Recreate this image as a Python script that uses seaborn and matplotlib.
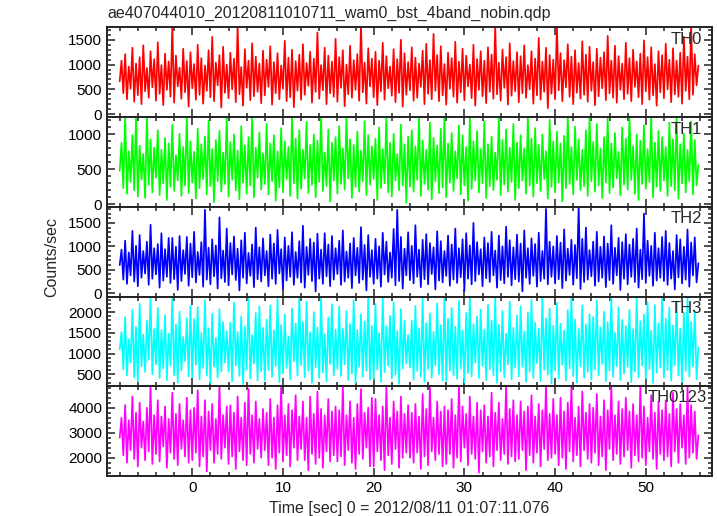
import numpy as np
import pandas as pd
import matplotlib
matplotlib.use("Agg")
import matplotlib.pyplot as plt
import seaborn as sns
from matplotlib.ticker import MultipleLocator, AutoMinorLocator

# light curves of the 4 WAM bands + their sum, 0.2 s steps
t0 = -8.0
dt = 0.2

th0 = [660, 1080, 420, 1210, 300, 960, 510, 1340, 250, 1020, 380, 1150, 200, 1390, 460, 930, 330, 1270, 540, 1110,
       270, 1450, 410, 990, 180, 1220, 490, 1060, 350, 1790, 230, 1180, 560, 940, 310, 1320, 440, 1070, 150, 1250,
       520, 1010, 290, 1400, 390, 1130, 210, 980, 470, 1290, 340, 1560, 260, 1040, 580, 1190, 130, 1360, 430, 1000,
       320, 1240, 500, 1120, 240, 1790, 400, 950, 170, 1310, 530, 1080, 280, 1430, 360, 1160, 450, 1020, 220, 1280,
       380, 1100, 550, 1370, 190, 1050, 420, 1230, 300, 980, 510, 1480, 260, 1140, 340, 1300, 140, 1070, 470, 1200,
       290, 1410, 390, 1030, 570, 1260, 230, 1120, 450, 1650, 310, 990, 480, 1340, 200, 1180, 420, 1060, 350, 1520,
       250, 1150, 530, 1290, 160, 1000, 400, 1380, 330, 1090, 490, 1210, 270, 1790, 440, 1040, 210, 1330, 560, 1120,
       340, 1260, 180, 1080, 460, 1440, 290, 1170, 520, 960, 370, 1310, 240, 1110, 430, 1500, 150, 1230, 390, 1050,
       480, 1350, 270, 1140, 330, 1020, 550, 1280, 200, 1420, 410, 1090, 300, 1620, 470, 1190, 260, 1370, 380, 1010,
       190, 1240, 510, 1130, 350, 1460, 230, 1060, 440, 1320, 280, 1180, 560, 1000, 320, 1400, 170, 1110, 490, 1270,
       360, 1080, 220, 1350, 450, 1200, 310, 1790, 400, 1040, 270, 1300, 530, 1150, 190, 1430, 370, 1070, 460, 1250,
       240, 1170, 420, 1390, 330, 990, 500, 1270, 210, 1120, 380, 1540, 290, 1060, 450, 1340, 120, 1190, 410, 1100,
       300, 1790, 480, 1230, 260, 1090, 540, 1410, 350, 1160, 200, 1290, 430, 1030, 310, 1470, 390, 1200, 250, 1360,
       470, 1050, 180, 1320, 360, 1140, 520, 1250, 280, 1580, 420, 1080, 330, 1380, 230, 1170, 490, 1020, 300, 1440,
       410, 1130, 260, 1300, 550, 1060, 340, 1220, 200, 1490, 460, 1150, 290, 1350, 380, 1010, 170, 1270, 440, 1190,
       320, 1420, 500, 1100, 240, 1330, 400, 1080, 350, 1240, 210, 1560, 470, 1160, 300, 1790, 390, 1210, 580, 980]

th1 = [480, 880, 230, 1260, 150, 760, 320, 990, 200, 1260, 110, 840, 350, 720, 90, 1260, 280, 930, 170, 810,
       380, 1060, 130, 780, 300, 950, 60, 870, 250, 1140, 190, 700, 340, 1010, 120, 820, 270, 1260, 160, 900,
       310, 750, 80, 1080, 230, 860, 360, 970, 140, 1200, 260, 790, 30, 920, 330, 1050, 180, 740, 290, 1260,
       110, 890, 350, 1000, 200, 770, 70, 1120, 310, 840, 150, 960, 270, 1260, 100, 810, 380, 1030, 210, 730,
       290, 1150, 140, 870, 330, 990, 50, 760, 240, 1090, 170, 900, 360, 820, 120, 1260, 300, 940, 80, 1060,
       220, 780, 370, 1180, 160, 850, 280, 1000, 100, 910, 320, 1260, 190, 740, 260, 1070, 40, 880, 340, 960,
       150, 1120, 290, 800, 210, 1260, 370, 930, 90, 850, 250, 1040, 180, 770, 330, 1190, 130, 990, 280, 830,
       360, 940, 60, 1100, 230, 790, 300, 1260, 170, 880, 110, 1010, 340, 720, 200, 1140, 270, 860, 20, 970,
       250, 1060, 180, 830, 350, 1260, 120, 910, 290, 780, 210, 1170, 70, 950, 330, 840, 160, 1080, 240, 1260,
       100, 870, 310, 1020, 190, 760, 370, 1130, 140, 990, 270, 820, 50, 1260, 220, 900, 340, 1050, 170, 790,
       300, 1180, 90, 860, 260, 970, 200, 740, 350, 1260, 130, 920, 280, 1070, 180, 810, 320, 1150, 60, 880,
       230, 990, 340, 800, 150, 1260, 270, 940, 110, 1090, 300, 850, 190, 1000, 360, 760, 80, 1210, 250, 900,
       170, 1040, 310, 870, 40, 980, 230, 1260, 290, 820, 140, 1110, 350, 930, 200, 780, 260, 1060, 120, 1260,
       330, 890, 180, 1150, 270, 800, 90, 960, 310, 1230, 160, 870, 240, 1020, 370, 750, 130, 1100, 280, 940,
       210, 1260, 350, 830, 150, 1000, 60, 910, 290, 1130, 220, 790, 320, 1260, 100, 880, 250, 1050, 190, 960,
       340, 820, 120, 1170, 260, 930, 200, 1260, 80, 860, 300, 1010, 170, 780, 330, 1190, 140, 920, 270, 560]

th2 = [600, 930, 290, 1120, 200, 870, 380, 1330, 250, 1010, 150, 1240, 330, 900, 420, 1100, 180, 1460, 310, 960,
       400, 1050, 120, 1280, 270, 940, 350, 1180, 220, 1180, 300, 990, 70, 1220, 260, 920, 410, 1200, 160, 1060,
       340, 1310, 230, 880, 390, 1090, 140, 1780, 290, 970, 190, 1150, 360, 1020, 100, 1620, 320, 910, 240, 1380,
       170, 1070, 400, 1210, 280, 950, 60, 1130, 330, 1290, 210, 860, 370, 1040, 130, 1400, 300, 980, 250, 1170,
       380, 900, 150, 1250, 310, 1060, 200, 1350, 420, 940, 90, 1190, 270, 1010, 350, 1300, 180, 880, 330, 1110,
       230, 1440, 120, 990, 390, 1160, 260, 1080, 40, 1270, 310, 930, 200, 1280, 360, 1040, 150, 1220, 290, 960,
       410, 1120, 180, 1340, 250, 890, 330, 1060, 110, 1180, 380, 970, 220, 1410, 290, 1030, 60, 1240, 350, 920,
       200, 1160, 310, 1000, 140, 1290, 400, 1100, 240, 870, 330, 1370, 170, 1780, 260, 1200, 100, 950, 380, 1300,
       280, 1010, 210, 1450, 350, 930, 130, 1140, 300, 1260, 190, 1070, 410, 980, 80, 1320, 270, 1110, 230, 900,
       370, 1230, 160, 1040, 290, 1380, 220, 960, 340, 1150, 50, 1280, 310, 1020, 190, 1500, 260, 1090, 400, 940,
       150, 1190, 320, 1070, 240, 1310, 380, 910, 120, 1230, 280, 1000, 210, 1420, 350, 1130, 170, 980, 300, 1250,
       250, 1060, 40, 1340, 330, 960, 200, 1170, 370, 1050, 140, 1290, 260, 900, 310, 1800, 190, 1100, 350, 1000,
       210, 1220, 300, 1080, 110, 1360, 270, 950, 390, 1140, 180, 1030, 320, 1840, 90, 1160, 240, 1400, 290, 920,
       360, 1100, 160, 1310, 250, 990, 330, 1210, 130, 1060, 280, 1450, 200, 970, 380, 1180, 70, 1090, 310, 1260,
       190, 1040, 350, 1160, 240, 1380, 120, 930, 300, 1700, 220, 1120, 370, 1010, 160, 1290, 270, 960, 330, 1200,
       260, 1330, 180, 1070, 310, 900, 80, 1240, 340, 1150, 210, 990, 290, 1360, 140, 1080, 380, 1190, 230, 640]

th3 = [1100, 1520, 620, 1880, 470, 1350, 780, 2050, 420, 1640, 330, 2200, 690, 1460, 560, 1790, 850, 2380, 500, 1590,
       740, 2100, 410, 1570, 640, 1930, 360, 1480, 710, 2380, 480, 1700, 300, 2010, 590, 1400, 820, 1850, 450, 2150,
       430, 1830, 730, 2120, 380, 1500, 650, 2290, 470, 1610, 280, 1960, 690, 1380, 420, 2070, 560, 1760, 780, 1540,
       560, 1740, 330, 2230, 720, 1520, 460, 1900, 270, 1650, 610, 2380, 400, 1440, 760, 1980, 350, 2140, 580, 1620,
       350, 1820, 600, 2160, 440, 1560, 700, 2320, 310, 1690, 520, 1940, 650, 1410, 380, 2090, 810, 1720, 470, 2380,
       720, 1760, 430, 2250, 590, 1510, 290, 2000, 670, 1630, 410, 2380, 540, 1470, 330, 1870, 750, 2190, 480, 1580,
       630, 2130, 460, 1600, 740, 2020, 360, 1710, 520, 2290, 280, 1570, 680, 1950, 440, 1770, 590, 2380, 370, 1660,
       380, 2200, 610, 1490, 320, 2380, 550, 1660, 710, 1910, 400, 2240, 490, 1540, 270, 2070, 640, 1800, 760, 1450,
       660, 1790, 370, 2150, 580, 1610, 440, 2330, 310, 1730, 630, 1970, 420, 1520, 720, 2210, 500, 1680, 350, 2380,
       340, 1840, 590, 2100, 470, 1650, 390, 2270, 640, 1560, 300, 1980, 530, 2380, 450, 1710, 780, 1900, 410, 2060,
       700, 1570, 360, 2180, 620, 1800, 480, 2380, 290, 1690, 570, 2030, 430, 1480, 740, 2250, 380, 1620, 660, 1920,
       450, 2140, 680, 1530, 320, 1990, 560, 2300, 410, 1740, 770, 1600, 340, 2380, 610, 1850, 490, 2090, 280, 1670,
       590, 2220, 400, 1720, 730, 1560, 350, 2050, 640, 2380, 460, 1820, 300, 1590, 690, 2160, 420, 1700, 560, 1950,
       370, 1880, 620, 2280, 480, 1630, 750, 2010, 330, 1750, 590, 2380, 440, 1500, 700, 2120, 360, 1810, 520, 1660,
       680, 2060, 310, 1590, 570, 2380, 430, 1780, 710, 1940, 390, 2240, 620, 1550, 290, 2170, 540, 1730, 660, 2380,
       420, 1840, 600, 2110, 350, 1680, 720, 2260, 470, 1600, 310, 1990, 580, 2380, 440, 1760, 690, 2030, 380, 1150]

th0123 = [2800, 3600, 2100, 4100, 1800, 3500, 2300, 4450, 1950, 3800, 1650, 4200, 2400, 3450, 1900, 4000, 2250, 4870, 1750, 3700,
          2150, 4300, 1850, 3650, 2450, 4050, 1600, 3550, 2200, 4600, 1950, 3750, 1700, 4150, 2350, 3500, 2050, 4400, 1800, 3900,
          1900, 4000, 2200, 4700, 1650, 3650, 2050, 4300, 1450, 3850, 2300, 4150, 1800, 3550, 2150, 4870, 1950, 3700, 2400, 4050,
          1750, 4100, 2050, 3800, 1550, 4450, 2250, 3600, 1900, 4200, 1700, 4750, 2150, 3700, 1800, 4250, 2350, 3550, 2000, 3950,
          2300, 3800, 1700, 4350, 2000, 3600, 1550, 4100, 2200, 4870, 1850, 3700, 2100, 4150, 1650, 3900, 2400, 4500, 1900, 3650,
          2350, 4250, 1900, 3600, 1500, 4450, 2150, 3750, 1750, 4650, 2000, 3950, 1600, 3700, 2250, 4350, 1850, 3850, 2100, 4050,
          1850, 3900, 2050, 4870, 1700, 3700, 2300, 4250, 1800, 3600, 1550, 4150, 2150, 4750, 1950, 3800, 2400, 4000, 1650, 4400,
          1650, 4350, 2250, 3700, 1900, 4050, 1500, 4870, 2100, 3600, 1750, 4250, 2350, 3850, 1600, 4450, 2000, 3750, 2200, 4100,
          2000, 3800, 1800, 4150, 2200, 3650, 1550, 4550, 2050, 3950, 1700, 4870, 2250, 3600, 1900, 4250, 2150, 3850, 1650, 4050,
          1750, 3900, 2150, 4350, 1600, 3700, 2000, 4870, 1850, 4050, 2400, 3750, 1700, 4450, 2150, 3650, 1950, 4200, 1400, 3900,
          2250, 4100, 1800, 3650, 2050, 4600, 1650, 3800, 2300, 4200, 1900, 3550, 2150, 4870, 1750, 3950, 2050, 4300, 1850, 3700,
          1950, 4250, 2300, 3850, 1500, 4050, 2100, 4500, 1800, 3650, 2200, 4150, 1650, 3900, 2350, 4870, 1900, 3750, 2000, 4350,
          2150, 3700, 1700, 4400, 2000, 3850, 1550, 4200, 2250, 4870, 1850, 3600, 2100, 4050, 1650, 4650, 2300, 3800, 1950, 4150,
          1800, 4000, 2200, 4550, 1700, 3650, 2050, 4300, 1500, 3900, 2350, 4870, 1900, 3700, 2150, 4250, 1750, 3950, 2050, 4400,
          2300, 3850, 1600, 4150, 2100, 3700, 1850, 4870, 2000, 4050, 1700, 3600, 2250, 4500, 1950, 3800, 1550, 4250, 2150, 3900,
          1900, 4300, 2050, 3750, 1650, 4600, 2250, 3950, 1800, 4150, 2400, 3700, 1750, 4870, 2000, 4100, 2200, 3850, 1950, 2900]

bands = ["TH0", "TH1", "TH2", "TH3", "TH0123"]
series = [th0, th1, th2, th3, th0123]
colors = ["#ff0000", "#00ff00", "#0000ff", "#00ffff", "#ff00ff"]

# panel layout (pixels of the 717x516 picture)
W, H = 717, 516
left, right = 107, 712
edges = [27, 117, 207, 296.5, 386, 476]
ylims = [(-60, 1760), (-40, 1250), (-70, 1840), (217, 2377), (1268, 4870)]
ymajor = [500, 500, 500, 500, 1000]

sns.set_style("ticks")
plt.rcParams["font.family"] = ["Liberation Sans", "DejaVu Sans"]
plt.rcParams["font.size"] = 11

fig = plt.figure(figsize=(W / 100, H / 100), dpi=100)

for i, (name, vals, col) in enumerate(zip(bands, series, colors)):
    top, bot = edges[i], edges[i + 1]
    ax = fig.add_axes([left / W, 1 - bot / H, (right - left) / W, (bot - top) / H])
    df = pd.DataFrame({"time": t0 + dt * np.arange(len(vals)), "rate": vals})
    sns.lineplot(data=df, x="time", y="rate", color=col, lw=1.25, ax=ax,
                 estimator=None, sort=False)
    ax.set_xlim(-9.4, 57.3)
    ax.set_ylim(*ylims[i])
    ax.xaxis.set_major_locator(MultipleLocator(10))
    ax.xaxis.set_minor_locator(MultipleLocator(2))
    ax.yaxis.set_major_locator(MultipleLocator(ymajor[i]))
    ax.yaxis.set_minor_locator(AutoMinorLocator(5))
    ax.tick_params(which="both", direction="in", top=True, right=True, colors="#333333",
                   labelcolor="black", labelsize=11, width=1.2)
    ax.tick_params(which="major", length=6)
    ax.tick_params(which="minor", length=3)
    for sp in ax.spines.values():
        sp.set_linewidth(1.4)
        sp.set_color("#222222")
    ax.set_xlabel("")
    ax.set_ylabel("")
    if i < len(bands) - 1:
        ax.tick_params(labelbottom=False)
    xpos = 0.992 if name == "TH0123" else 0.983
    ax.text(xpos, 0.95, name, transform=ax.transAxes, ha="right", va="top", fontsize=12)

fig.text(left / W, 1 - 18 / H, "ae407044010_20120811010711_wam0_bst_4band_nobin.qdp",
         ha="left", va="baseline", fontsize=11.5)
fig.text(52 / W, 1 - 257 / H, "Counts/sec", rotation=90, ha="center", va="center", fontsize=11.5)
fig.text((left + right) / 2 / W, 1 - 508 / H, "Time [sec] 0 = 2012/08/11 01:07:11.076",
         ha="center", va="center", fontsize=11.5)

fig.savefig("out.png", dpi=100)
